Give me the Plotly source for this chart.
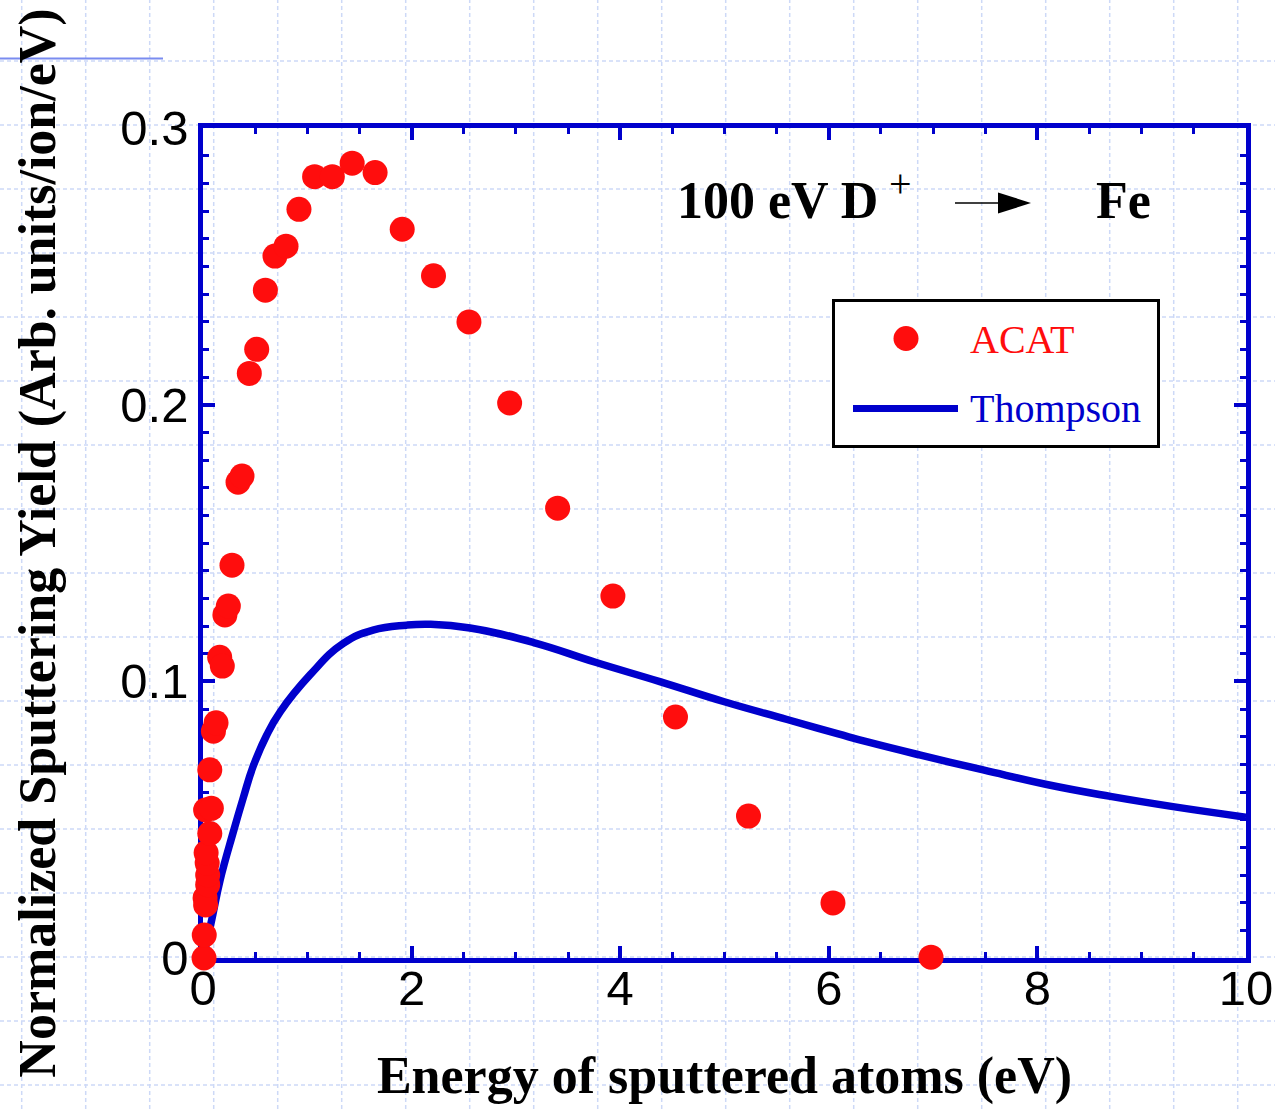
import plotly.graph_objects as go

W, H = 1275, 1109

# ---------------- data ----------------
acat_energy = [0.01, 0.012, 0.02, 0.025, 0.045, 0.045, 0.04, 0.03, 0.065, 0.025, 0.08,
               0.065, 0.10, 0.125, 0.16, 0.185, 0.21, 0.243, 0.278, 0.336, 0.374,
               0.444, 0.515, 0.598, 0.69, 0.796, 0.92, 1.07, 1.24, 1.43, 1.65,
               1.91, 2.21, 2.55, 2.94, 3.40, 3.93, 4.53, 5.23, 6.04, 6.98]
acat_yield = [0.0, 0.0083, 0.0217, 0.0192, 0.0265, 0.030, 0.0343, 0.038, 0.045, 0.0535, 0.0541,
              0.068, 0.082, 0.085, 0.1087, 0.1055, 0.124, 0.1272, 0.142, 0.172, 0.1742,
              0.2113, 0.220, 0.2414, 0.2537, 0.2573, 0.2706, 0.2824, 0.2824, 0.2873, 0.2839,
              0.2634, 0.2466, 0.2299, 0.2006, 0.1626, 0.1308, 0.0871, 0.0513, 0.0199, 0.0003]

thompson_energy = [0.0, 0.083, 0.163, 0.29, 0.387, 0.48, 0.61, 0.74, 1.03, 1.345, 1.63,
                   1.95, 2.18, 2.56, 3.17, 3.77, 4.38, 4.99, 5.6, 6.09, 6.39, 6.87,
                   7.48, 8.09, 8.70, 9.30, 10.0]
thompson_yield = [0.0, 0.0137, 0.028, 0.0455, 0.058, 0.0692, 0.0805, 0.0890, 0.1025, 0.1137, 0.1185,
                  0.1203, 0.1206, 0.1193, 0.1140, 0.1068, 0.0999, 0.0927, 0.0862, 0.0810, 0.0779,
                  0.0734, 0.0680, 0.0627, 0.0584, 0.0547, 0.0509]

x_tick_vals = [0, 2, 4, 6, 8, 10]
x_tick_text = ["0", "2", "4", "6", "8", "10"]
y_tick_vals = [0, 0.1, 0.2, 0.3]
y_tick_text = ["0", "0.1", "0.2", "0.3"]

series_names = ["ACAT", "Thompson"]
x_title = "Energy of sputtered atoms (eV)"
y_title = "Normalized Sputtering Yield (Arb. units/ion/eV)"

# ---------------- styles ----------------
BLUE = "#0000cc"
RED = "#ff0d0d"
GRID = "rgb(205,217,247)"
SERIF = "Liberation Serif, Times New Roman, serif"
SANS = "Liberation Sans, Arial, sans-serif"


def px(x):
    return x / W


def py(y):
    return 1 - y / H


fig = go.Figure()

fig.add_trace(go.Scatter(
    x=thompson_energy, y=thompson_yield, mode="lines", name=series_names[1],
    line=dict(color=BLUE, width=7.5, shape="spline", smoothing=1.3),
    showlegend=False, cliponaxis=False))

fig.add_trace(go.Scatter(
    x=acat_energy, y=acat_yield, mode="markers", name=series_names[0],
    marker=dict(color=RED, size=25, line=dict(width=0)),
    showlegend=False, cliponaxis=False))

shapes = []
# page background grid (decoration)
gx = 21.7
while gx < W:
    shapes.append(dict(type="line", xref="paper", yref="paper", x0=px(gx), x1=px(gx), y0=0, y1=1,
                       line=dict(color=GRID, width=1.5, dash="4px,3px"), layer="below"))
    gx += 64.0
gy = 61.0
while gy < H:
    shapes.append(dict(type="line", xref="paper", yref="paper", x0=0, x1=1, y0=py(gy), y1=py(gy),
                       line=dict(color=GRID, width=1.5, dash="4px,3px"), layer="below"))
    gy += 64.0
# small blue rule at top-left
shapes.append(dict(type="line", xref="paper", yref="paper", x0=0, x1=px(163), y0=py(58.5), y1=py(58.5),
                   line=dict(color="rgb(122,140,240)", width=2), layer="below"))
# legend box
shapes.append(dict(type="rect", xref="paper", yref="paper", x0=px(833.5), x1=px(1158.5),
                   y0=py(446.5), y1=py(300.5), line=dict(color="black", width=3),
                   fillcolor="white", layer="above"))
# legend symbols
shapes.append(dict(type="circle", xref="paper", yref="paper", x0=px(893.5), x1=px(918.5),
                   y0=py(351), y1=py(326), line=dict(width=0), fillcolor=RED, layer="above"))
shapes.append(dict(type="line", xref="paper", yref="paper", x0=px(853), x1=px(958),
                   y0=py(408.5), y1=py(408.5), line=dict(color=BLUE, width=7), layer="above"))
# reaction arrow
shapes.append(dict(type="line", xref="paper", yref="paper", x0=px(955), x1=px(1000),
                   y0=py(203), y1=py(203), line=dict(color="black", width=1.5), layer="above"))
shapes.append(dict(type="path", xref="paper", yref="paper",
                   path=f"M {px(998)},{py(192.5)} L {px(1031)},{py(203)} L {px(998)},{py(213.5)} Z",
                   fillcolor="black", line=dict(width=0), layer="above"))

annotations = [
    dict(text="100 eV D", x=px(675), y=py(201), xref="paper", yref="paper", xanchor="left",
         yanchor="middle", showarrow=False,
         font=dict(family=SERIF, size=52, color="black", weight="bold")),
    dict(text="+", x=px(900), y=py(183), xref="paper", yref="paper", xanchor="center",
         yanchor="middle", showarrow=False, font=dict(family=SERIF, size=40, color="black")),
    dict(text="Fe", x=px(1094), y=py(201), xref="paper", yref="paper", xanchor="left",
         yanchor="middle", showarrow=False,
         font=dict(family=SERIF, size=52, color="black", weight="bold")),
    dict(text=series_names[0], x=px(968), y=py(339.5), xref="paper", yref="paper", xanchor="left",
         yanchor="middle", showarrow=False, font=dict(family=SERIF, size=40, color=RED)),
    dict(text=series_names[1], x=px(968), y=py(408.5), xref="paper", yref="paper", xanchor="left",
         yanchor="middle", showarrow=False, font=dict(family=SERIF, size=40, color=BLUE)),
]

axis_common = dict(
    ticks="inside", ticklen=12, tickwidth=4, tickcolor=BLUE,
    showline=True, linecolor=BLUE, linewidth=4.5, mirror="ticks",
    showgrid=False, zeroline=False, layer="below traces", automargin=False,
    tickfont=dict(family=SANS, size=49, color="black"),
)

fig.update_layout(
    template="none",
    width=W, height=H, autosize=False,
    margin=dict(l=0, r=0, t=0, b=0, pad=0),
    paper_bgcolor="white", plot_bgcolor="white",
    showlegend=False,
    xaxis=dict(
        domain=[px(203), px(1246)], range=[0, 10],
        tickmode="array", tickvals=x_tick_vals, ticktext=x_tick_text,
        ticklabelstandoff=-17,
        minor=dict(tick0=0, dtick=0.5, ticks="inside", ticklen=6, tickwidth=3,
                   tickcolor=BLUE, showgrid=False),
        title=dict(text=x_title, standoff=45,
                   font=dict(family=SERIF, size=52, color="black", weight="bold")),
        **axis_common),
    yaxis=dict(
        domain=[py(958), py(128)], range=[0, 0.3],
        tickmode="array", tickvals=y_tick_vals, ticktext=y_tick_text,
        minor=dict(tick0=0, dtick=0.01, ticks="inside", ticklen=6, tickwidth=3,
                   tickcolor=BLUE, showgrid=False),
        title=dict(text=y_title, standoff=50,
                   font=dict(family=SERIF, size=52, color="black", weight="bold")),
        **axis_common),
    shapes=shapes,
    annotations=annotations,
)

fig.write_html("out.html", config={"displayModeBar": False},
               post_script="document.body.style.margin='0';document.body.style.overflow='hidden';")
